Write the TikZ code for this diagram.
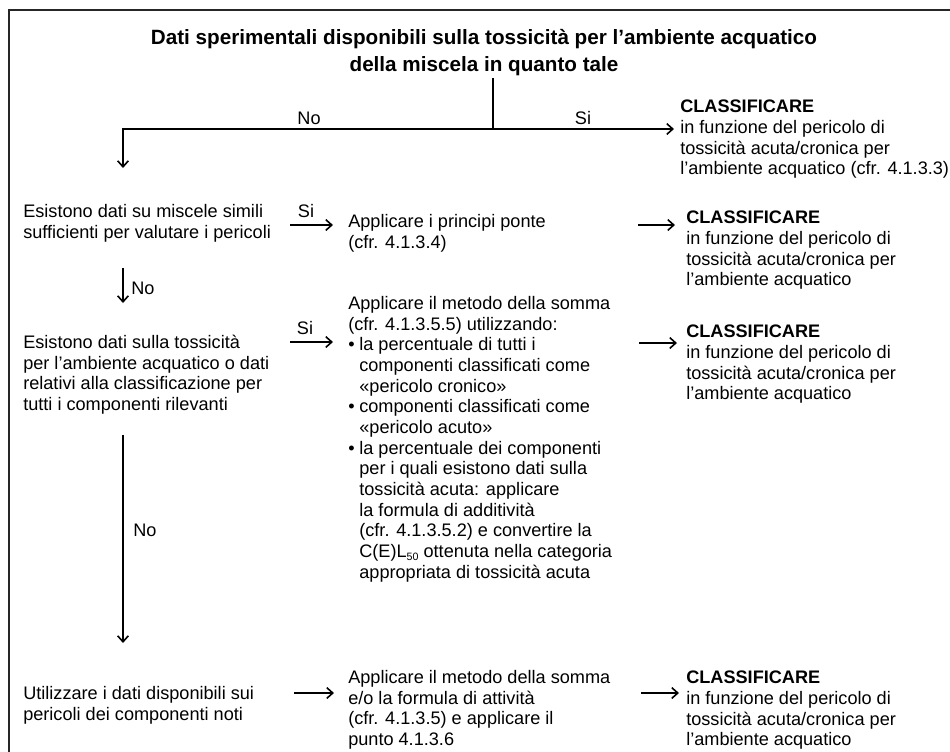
\documentclass[tikz,border=0pt]{standalone}
\usepackage{fontspec}
\setmainfont{Liberation Sans}
\usetikzlibrary{arrows.meta}
\newcommand{\bul}{\makebox[8.3pt][l]{•}}
\newcommand{\ind}{\hspace*{8.3pt}}
\begin{document}
\begin{tikzpicture}[x=0.75pt,y=-0.75pt,
  txt/.style={anchor=north west, inner sep=0pt, align=left, font=\fontsize{13.6}{15.5}\selectfont},
  lbl/.style={inner sep=0pt, font=\fontsize{13.6}{15.5}\selectfont},
  arr/.style={line width=1.5pt, -{Straight Barb[length=4.5pt,width=8pt,line width=1.2pt]}},
  toparr/.style={line width=1.8pt, -{Straight Barb[length=4.5pt,width=8pt,line width=1.2pt]}},
  frame/.style={line width=1.4pt, draw=black!85},
  thinline/.style={line width=0.8pt}]
\useasboundingbox (0,0) rectangle (950,751);
% frame
\coordinate (fbl) at (9,760);
\coordinate (ftl) at (9,10);
\coordinate (ftr) at (960,10);
\draw[frame] (fbl) -- (ftl) -- (ftr);

% title
\node[anchor=north, inner sep=0pt, align=center, font=\bfseries\fontsize{15.5}{20}\selectfont] (title) at (484,29)
  {Dati sperimentali disponibili sulla tossicità per l’ambiente acquatico\\della miscela in quanto tale};

% top connectors
\coordinate (vtop) at (493,78);
\coordinate (junc) at (493,129);
\coordinate (corner) at (123,129);
\coordinate (siend) at (674,129);
\coordinate (dn1) at (123,168);
\draw[thinline] (vtop) -- (junc);
\draw[toparr] (junc) -- (siend);
\draw[toparr] (junc) -- (corner) -- (dn1);
\node[lbl, anchor=base] (no0) at (309,124.5) {No};
\node[lbl, anchor=base] (si0) at (583,124.5) {Si};

\node[txt] (cl0) at (680,100) {\textbf{CLASSIFICARE}\\in funzione del pericolo di\\tossicità acuta/cronica per\\l’ambiente acquatico (cfr. 4.1.3.3)};

% row 2
\node[txt] (q1) at (23,204) {Esistono dati su miscele simili\\sufficienti per valutare i pericoli};
\node[lbl, anchor=base] (si1) at (306,217.5) {Si};
\coordinate (a1s) at (290,225);
\coordinate (a1e) at (333,225);
\draw[arr] (a1s) -- (a1e);
\node[txt] (m1) at (348,214) {Applicare i principi ponte\\(cfr. 4.1.3.4)};
\coordinate (b1s) at (638,225);
\coordinate (b1e) at (675,225);
\draw[arr] (b1s) -- (b1e);
\node[txt] (cl1) at (686,211) {\textbf{CLASSIFICARE}\\in funzione del pericolo di\\tossicità acuta/cronica per\\l’ambiente acquatico};

% no arrow 1
\coordinate (n1s) at (123,268);
\coordinate (n1e) at (123,303);
\draw[arr] (n1s) -- (n1e);
\node[lbl, anchor=west] (no1) at (131,288) {No};

% row 3
\node[txt] (q2) at (23,335) {Esistono dati sulla tossicità\\per l’ambiente acquatico o dati\\relativi alla classificazione per\\tutti i componenti rilevanti};
\node[lbl, anchor=base] (si2) at (305,334.5) {Si};
\coordinate (a2s) at (290,342);
\coordinate (a2e) at (333,342);
\draw[arr] (a2s) -- (a2e);
\node[txt] (m2) at (348,296) {Applicare il metodo della somma\\(cfr. 4.1.3.5.5) utilizzando:\\
\bul la percentuale di tutti i\\\ind componenti classificati come\\\ind «pericolo cronico»\\
\bul componenti classificati come\\\ind «pericolo acuto»\\
\bul la percentuale dei componenti\\\ind per i quali esistono dati sulla\\\ind tossicità acuta: applicare\\\ind la formula di additività\\\ind (cfr. 4.1.3.5.2) e convertire la\\\ind C(E)L\raisebox{-2.5pt}{\fontsize{8}{8}\selectfont 50} ottenuta nella categoria\\\ind appropriata di tossicità acuta};
\coordinate (b2s) at (639,343);
\coordinate (b2e) at (677,343);
\draw[arr] (b2s) -- (b2e);
\node[txt] (cl2) at (686,325) {\textbf{CLASSIFICARE}\\in funzione del pericolo di\\tossicità acuta/cronica per\\l’ambiente acquatico};

% long no arrow
\coordinate (n2s) at (123,435);
\coordinate (n2e) at (123,643);
\draw[arr] (n2s) -- (n2e);
\node[lbl, anchor=west] (no2) at (133,530) {No};

% bottom row
\node[txt] (q3) at (23,686) {Utilizzare i dati disponibili sui\\pericoli dei componenti noti};
\coordinate (a3s) at (294,693);
\coordinate (a3e) at (334,693);
\draw[arr] (a3s) -- (a3e);
\node[txt] (m3) at (348,670) {Applicare il metodo della somma\\e/o la formula di attività\\(cfr. 4.1.3.5) e applicare il\\punto 4.1.3.6};
\coordinate (b3s) at (641,693);
\coordinate (b3e) at (679,693);
\draw[arr] (b3s) -- (b3e);
\node[txt] (cl3) at (686,671) {\textbf{CLASSIFICARE}\\in funzione del pericolo di\\tossicità acuta/cronica per\\l’ambiente acquatico};
\end{tikzpicture}
\end{document}
